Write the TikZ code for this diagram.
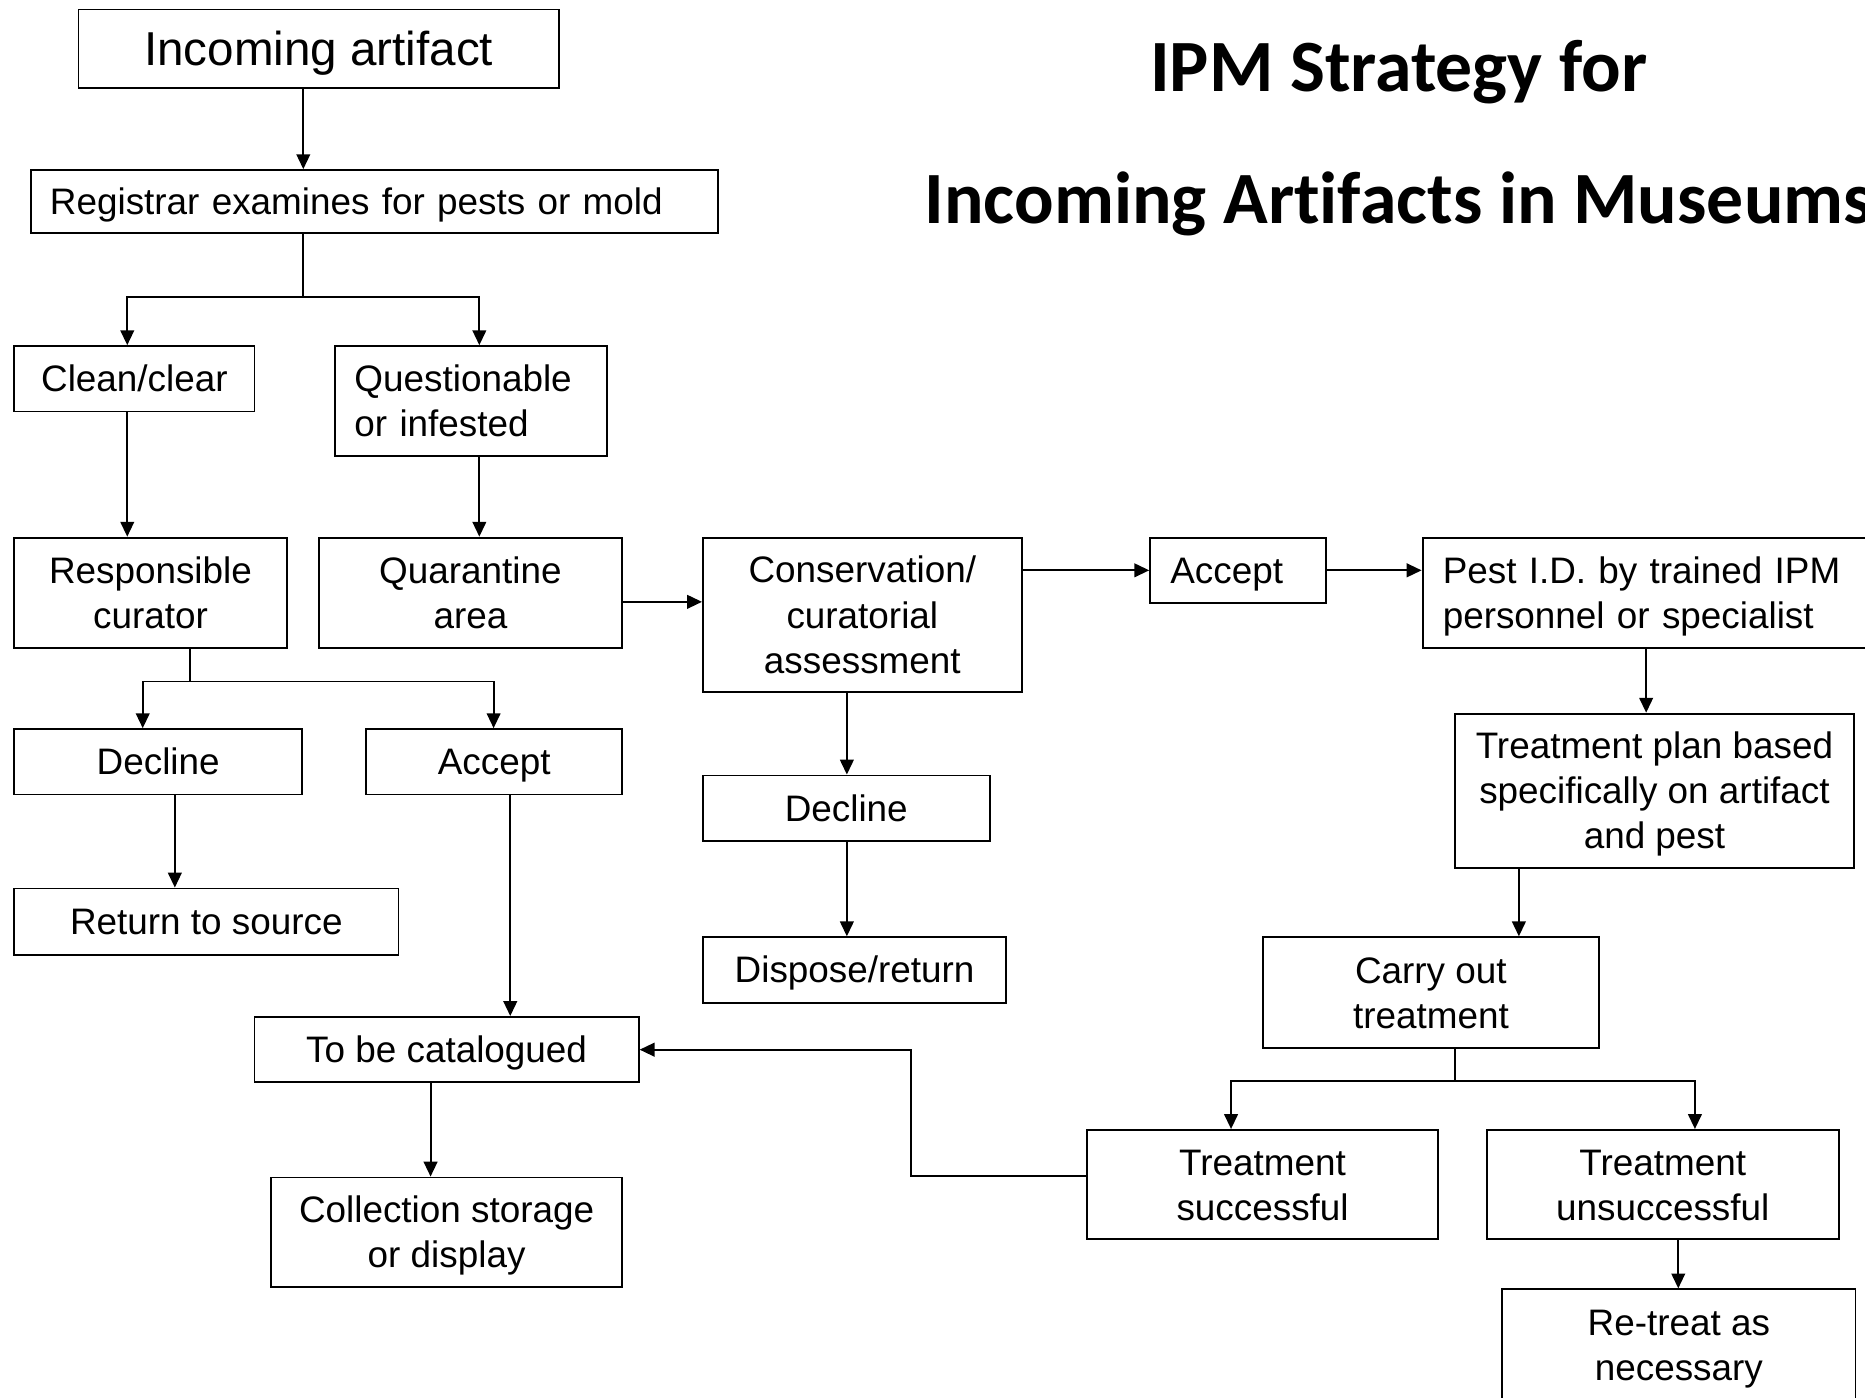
\documentclass[tikz,border=0pt]{standalone}
\usepackage{fontspec}
\setmainfont{Liberation Sans}
\newfontfamily\titlefam{Carlito}[Ligatures=NoCommon]
\usetikzlibrary{arrows.meta}
\newcommand\myfont{\fontsize{31}{38}\selectfont}
\newcommand\bigfont{\fontsize{40}{48}\selectfont}
\newcommand\mytitle{\fontsize{62}{74}\selectfont\titlefam\bfseries}
\newcommand\st{\rule[-6pt]{0pt}{34pt}}
\newcommand\stb{\rule[-8pt]{0pt}{44pt}}
\tikzset{
  box/.style={draw=black, line width=1.6pt, inner sep=0pt, font=\myfont, align=center},
  lbox/.style={box, align=left},
  arr/.style={line width=1.6pt, -{Triangle[length=12.5pt,width=11.5pt]}},
  ln/.style={line width=1.6pt},
}
\begin{document}
\begin{tikzpicture}[x=1pt,y=-1pt]
\clip (0,0) rectangle (1568,1175);
\fill[white] (0,0) rectangle (1568,1175);

% title
\node[font=\mytitle, anchor=base] (t1) at (1176,77) {IPM Strategy for};
\node[font=\mytitle, anchor=base] (t2) at (1176,188) {Incoming Artifacts in Museums};

% boxes
\node[box, font=\bigfont, minimum width=404pt, minimum height=66pt] (inc) at (268,41) {\stb Incoming artifact};
\node[lbox, text width=546pt, minimum width=578pt, minimum height=53pt] (reg) at (315,169.5) {\st Registrar examines for pests or mold};
\node[box, minimum width=202pt, minimum height=55pt] (clean) at (113,318.5) {\st Clean/clear};
\node[lbox, text width=196pt, minimum width=228pt, minimum height=92pt] (quest) at (396,337) {\st Questionable\\\st or infested};
\node[box, minimum width=229pt, minimum height=93pt] (resp) at (126.5,498.5) {\st Responsible\\\st curator};
\node[box, minimum width=255pt, minimum height=93pt] (quar) at (395.5,498.5) {\st Quarantine\\\st area};
\node[box, minimum width=268pt, minimum height=130pt] (cons) at (725,517) {\st Conservation/\\\st curatorial\\\st assessment};
\node[lbox, text width=114pt, minimum width=148pt, minimum height=55pt] (acc2) at (1041,479.5) {\st Accept};
\node[lbox, text width=346pt, minimum width=380pt, minimum height=93pt] (pest) at (1386,498.5) {\st Pest I.D. by trained IPM\\\st personnel or specialist};
\node[box, minimum width=336pt, minimum height=130pt] (plan) at (1391,665) {\st Treatment plan based\\\st specifically on artifact\\\st and pest};
\node[box, minimum width=282pt, minimum height=93pt] (carry) at (1203,834.5) {\st Carry out\\\st treatment};
\node[box, minimum width=295pt, minimum height=92pt] (succ) at (1061.5,996) {\st Treatment\\\st successful};
\node[box, minimum width=296pt, minimum height=92pt] (unsucc) at (1398,996) {\st Treatment\\\st unsuccessful};
\node[box, minimum width=297pt, minimum height=94pt] (retreat) at (1411.5,1131) {\st Re-treat as\\\st necessary};
\node[box, minimum width=242pt, minimum height=55pt] (dec1) at (133,640.5) {\st Decline};
\node[box, minimum width=215pt, minimum height=55pt] (acc1) at (415.5,640.5) {\st Accept};
\node[box, minimum width=323pt, minimum height=56pt] (ret) at (173.5,775) {\st Return to source};
\node[box, minimum width=323pt, minimum height=55pt] (cat) at (375.5,882.5) {\st To be catalogued};
\node[box, minimum width=295pt, minimum height=92pt] (coll) at (375.5,1036) {\st Collection storage\\\st or display};
\node[box, minimum width=241pt, minimum height=55pt] (dec2) at (711.5,679.5) {\st Decline};
\node[box, minimum width=255pt, minimum height=55pt] (disp) at (718.5,815.5) {\st Dispose/return};

% junctions
\coordinate (s1) at (255,250);
\coordinate (s2) at (160,573);
\coordinate (s4) at (1223,909);
\coordinate (s5) at (766,989);

% connectors
\draw[arr] (inc.south -| 255,0) -- (reg.north -| 255,0);
\draw[ln] (reg.south -| s1) -- (s1);
\draw[arr] (s1) -| (clean.north -| 107,0);
\draw[arr] (s1) -| (quest.north -| 403,0);
\draw[arr] (clean.south -| 107,0) -- (resp.north -| 107,0);
\draw[arr] (quest.south -| 403,0) -- (quar.north -| 403,0);
\draw[arr] (quar.east |- 0,506) -- (cons.west |- 0,506);
\draw[arr] (cons.east |- acc2.west) -- (acc2.west);
\draw[arr] (acc2.east) -- (pest.west |- acc2.east);
\draw[arr] (pest.south -| 1384,0) -- (plan.north -| 1384,0);
\draw[arr] (plan.south -| 1277,0) -- (carry.north -| 1277,0);
\draw[ln] (carry.south -| s4) -- (s4);
\draw[arr] (s4) -| (succ.north -| 1035,0);
\draw[arr] (s4) -| (unsucc.north -| 1425,0);
\draw[arr] (unsucc.south -| 1411,0) -- (retreat.north -| 1411,0);
\draw[arr] (succ.west |- s5) -- (s5) |- (cat.east);
\draw[ln] (resp.south -| s2) -- (s2);
\draw[arr] (s2) -| (dec1.north -| 120,0);
\draw[arr] (s2) -| (acc1.north -| 415,0);
\draw[arr] (dec1.south -| 147,0) -- (ret.north -| 147,0);
\draw[arr] (acc1.south -| 429,0) -- (cat.north -| 429,0);
\draw[arr] (cat.south -| 362,0) -- (coll.north -| 362,0);
\draw[arr] (cons.south -| 712,0) -- (dec2.north -| 712,0);
\draw[arr] (dec2.south -| 712,0) -- (disp.north -| 712,0);
\end{tikzpicture}
\end{document}
